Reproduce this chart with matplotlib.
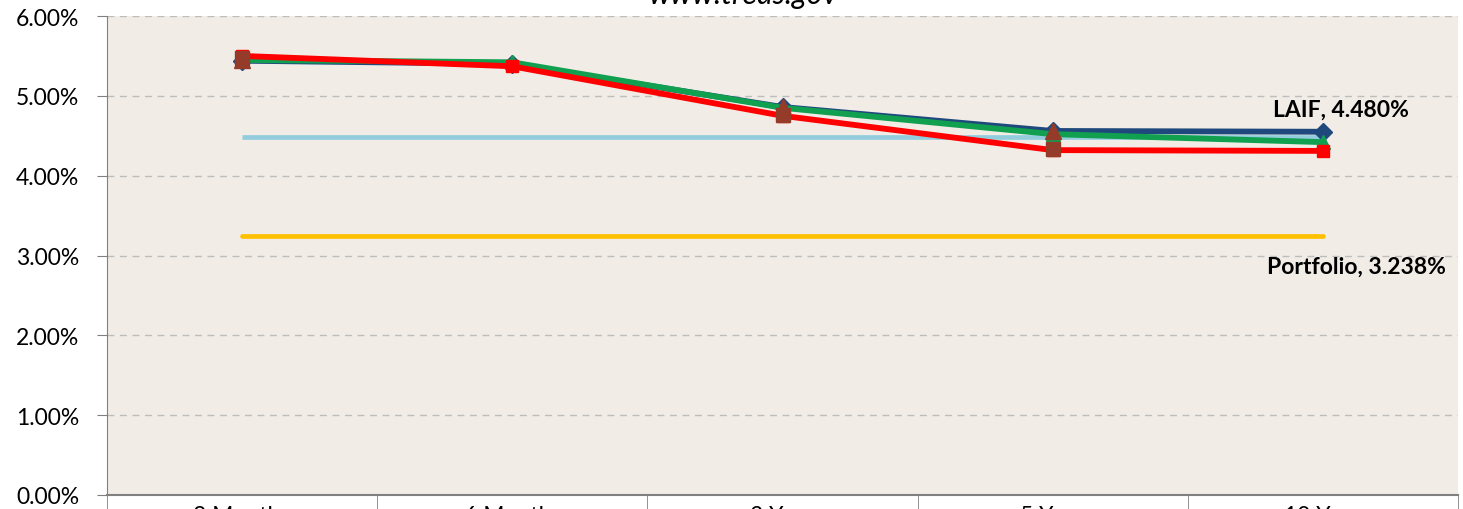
import matplotlib
matplotlib.use("Agg")
import matplotlib.pyplot as plt
import numpy as np

categories = ["3 Months", "6 Months", "2 Year", "5 Year", "10 Year"]
series_blue = [5.44, 5.40, 4.86, 4.56, 4.55]
series_green = [5.45, 5.42, 4.85, 4.52, 4.42]
series_red = [5.50, 5.37, 4.75, 4.32, 4.31]
brown_square = [5.47, np.nan, 4.76, 4.33, np.nan]
brown_triangle = [5.45, np.nan, 4.86, 4.56, np.nan]
laif_rate = 4.480
portfolio_rate = 3.238
yticks = [0, 1, 2, 3, 4, 5, 6]

plt.rcParams['font.family'] = ['Lato', 'DejaVu Sans']

fig = plt.figure(figsize=(14.63, 5.10), dpi=100)
ax = fig.add_axes([107/1463, 14/510, (1458-107)/1463, (496-17)/510])
ax.set_facecolor('#F1EDE6')

x = np.arange(len(categories))
ax.plot(x, [laif_rate]*len(x), color='#93CDDD', lw=3.4, solid_capstyle='butt', zorder=3)
ax.plot(x, [portfolio_rate]*len(x), color='#FFC000', lw=3.4, solid_capstyle='round', zorder=3)
ax.plot(x, series_blue, color='#1F497D', lw=4.2, marker='D', ms=9, zorder=4)
ax.plot(x, series_green, color='#10A050', lw=4.2, marker='^', ms=10, zorder=5)
ax.plot(x, series_red, color='#FF0000', lw=4.2, marker='s', ms=9, zorder=6)
ax.plot(x, brown_triangle, ls='none', color='#953B2A', marker='^', ms=11, zorder=7)
ax.plot(x, brown_square, ls='none', color='#953B2A', marker='s', ms=10, zorder=7)

ax.text(3.815, 4.835, f"LAIF, {laif_rate:.3f}%", fontsize=16.5, fontweight='bold',
        ha='left', va='center', zorder=8)
ax.text(3.793, 2.869, f"Portfolio, {portfolio_rate:.3f}%", fontsize=16.5, fontweight='bold',
        ha='left', va='center', zorder=8)

ax.set_xlim(-0.5, 4.5)
ax.set_ylim(0, 6)
ax.set_yticks(yticks)
ax.set_yticklabels([f"{v:.2f}%" for v in yticks], fontsize=16.5)
ax.yaxis.grid(True, ls=(0, (5, 4)), color='#BDBDBD', lw=1)
ax.set_axisbelow(True)
ax.tick_params(axis='y', length=7, color='#808080', pad=13)

ax.set_xticks(x)
ax.set_xticklabels(categories, fontsize=16.5)
ax.set_xticks(np.arange(-0.5, 5, 1), minor=True)
ax.tick_params(axis='x', which='major', length=0, pad=7)
ax.tick_params(axis='x', which='minor', length=20, color='#808080')

for s in ['top', 'right']:
    ax.spines[s].set_visible(False)
ax.spines['left'].set_color('#808080')
ax.spines['bottom'].set_color('#808080')
ax.spines['bottom'].set_linewidth(1.5)

fig.text(743/1463, 1 - 4/510, "www.treas.gov", fontsize=22, style='italic',
         ha='center', va='baseline')

fig.savefig('out.png', dpi=100, facecolor='white')
